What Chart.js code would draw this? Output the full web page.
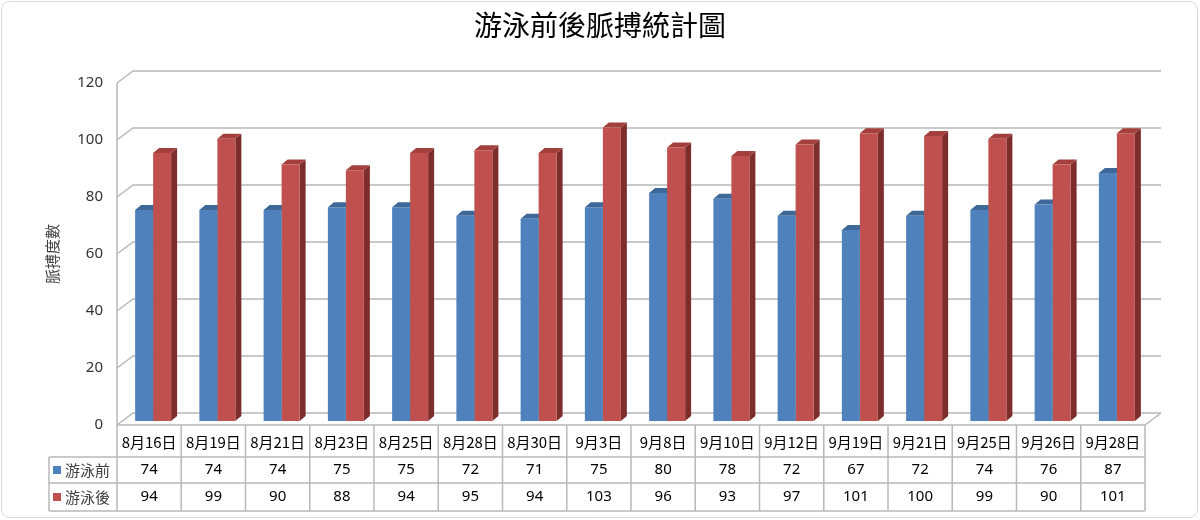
<!DOCTYPE html>
<html>
<head>
<meta charset="utf-8">
<script src="https://cdn.jsdelivr.net/npm/chart.js@4.4.1/dist/chart.umd.min.js"></script>
<style>
  body { margin: 0; background: #fff; }
</style>
</head>
<body>
<canvas id="chart" width="1200" height="520"></canvas>
<script>
const dates = ['8月16日', '8月19日', '8月21日', '8月23日', '8月25日', '8月28日', '8月30日', '9月3日',
  '9月8日', '9月10日', '9月12日', '9月19日', '9月21日', '9月25日', '9月26日', '9月28日'];
const beforeSwim = [74, 74, 74, 75, 75, 72, 71, 75, 80, 78, 72, 67, 72, 74, 76, 87];
const afterSwim = [94, 99, 90, 88, 94, 95, 94, 103, 96, 93, 97, 101, 100, 99, 90, 101];
const seriesNames = ['游泳前', '游泳後'];
const yTicks = [0, 20, 40, 60, 80, 100, 120];

const colors = [
  {front: '#4f81bd', top: '#3d6898', side: '#2f5485'},
  {front: '#c0504d', top: '#a33f3c', side: '#7d2d2b'}
];
const depth = {dx: 16, dy: -12};   // back wall offset
const barDepth = {dx: 6, dy: -5};  // bar top/side
const barShift = {dx: 4, dy: -4};
const gridColor = '#b8b8b8';
const cjk = '"Noto Sans CJK TC", "Noto Sans", sans-serif';

const scene = {
  id: 'scene',
  beforeDatasetsDraw(chart) {
    const {ctx, chartArea: a, scales: {x, y}} = chart;
    ctx.save();
    ctx.strokeStyle = gridColor;
    ctx.lineWidth = 1.5;
    // walls: side diagonal + back horizontal for each tick
    yTicks.forEach(v => {
      const py = y.getPixelForValue(v);
      ctx.beginPath();
      ctx.moveTo(a.left, py);
      ctx.lineTo(a.left + depth.dx, py + depth.dy);
      ctx.lineTo(a.right + depth.dx, py + depth.dy);
      ctx.stroke();
    });
    // floor
    const fy = y.getPixelForValue(0);
    ctx.beginPath();
    ctx.moveTo(a.left, fy);
    ctx.lineTo(a.right, fy);
    ctx.lineTo(a.right + depth.dx, fy + depth.dy);
    ctx.stroke();
    // left wall edge
    ctx.beginPath();
    ctx.moveTo(a.left, y.getPixelForValue(120));
    ctx.lineTo(a.left, 511);
    ctx.stroke();
    ctx.restore();

    // 3d faces of bars, front faces drawn by chart.js afterwards
    ctx.save();
    ctx.translate(barShift.dx, barShift.dy);
    chart.data.datasets.forEach((ds, di) => {
      chart.getDatasetMeta(di).data.forEach(bar => {
        const x0 = bar.x - bar.width / 2, x1 = bar.x + bar.width / 2;
        const top = bar.y, base = bar.base;
        ctx.fillStyle = colors[di].side;
        ctx.beginPath();
        ctx.moveTo(x1, top);
        ctx.lineTo(x1 + barDepth.dx, top + barDepth.dy);
        ctx.lineTo(x1 + barDepth.dx, base + barDepth.dy);
        ctx.lineTo(x1, base);
        ctx.fill();
        ctx.fillStyle = colors[di].top;
        ctx.beginPath();
        ctx.moveTo(x0, top);
        ctx.lineTo(x0 + barDepth.dx, top + barDepth.dy);
        ctx.lineTo(x1 + barDepth.dx, top + barDepth.dy);
        ctx.lineTo(x1, top);
        ctx.fill();
      });
    });
  },
  afterDatasetsDraw(chart) {
    chart.ctx.restore();
  },
  afterDraw(chart) {
    const {ctx, chartArea: a, scales: {x}} = chart;
    const w = (a.right - a.left) / dates.length;
    const rows = [457, 483, 511];
    ctx.save();
    ctx.strokeStyle = gridColor;
    ctx.lineWidth = 1.5;
    for (let i = 1; i <= dates.length; i++) {
      ctx.beginPath();
      ctx.moveTo(a.left + i * w, a.bottom);
      ctx.lineTo(a.left + i * w, rows[2]);
      ctx.stroke();
    }
    rows.forEach(r => {
      ctx.beginPath();
      ctx.moveTo(49, r);
      ctx.lineTo(a.right, r);
      ctx.stroke();
    });
    ctx.beginPath();
    ctx.moveTo(49, rows[0]);
    ctx.lineTo(49, rows[2]);
    ctx.stroke();

    const series = [beforeSwim, afterSwim];
    ctx.textAlign = 'center';
    ctx.textBaseline = 'middle';
    ctx.font = '15px "Noto Sans", sans-serif';
    ctx.fillStyle = '#000';
    series.forEach((vals, si) => {
      const cy = (rows[si] + rows[si + 1]) / 2;
      vals.forEach((v, i) => ctx.fillText(String(v), x.getPixelForValue(i), cy));
    });
    ctx.textAlign = 'left';
    ctx.font = '15px ' + cjk;
    seriesNames.forEach((name, si) => {
      const cy = (rows[si] + rows[si + 1]) / 2;
      ctx.fillStyle = colors[si].front;
      ctx.fillRect(53, cy - 4, 8, 8);
      ctx.fillStyle = '#404040';
      ctx.fillText(name, 65, cy);
    });

    // chart frame
    ctx.strokeStyle = '#d8d8d8';
    ctx.lineWidth = 1;
    ctx.beginPath();
    ctx.roundRect(1.5, 1.5, 1196, 516, 8);
    ctx.stroke();
    ctx.restore();
  }
};

new Chart(document.getElementById('chart'), {
  type: 'bar',
  data: {
    labels: dates,
    datasets: seriesNames.map((name, i) => ({
      label: name,
      data: i === 0 ? beforeSwim : afterSwim,
      backgroundColor: colors[i].front,
      categoryPercentage: 0.56,
      barPercentage: 1
    }))
  },
  options: {
    responsive: false,
    animation: false,
    // equal side padding keeps the title centred on the canvas
    layout: {padding: {left: 55, right: 55}},
    plugins: {
      legend: {display: false},
      tooltip: {enabled: false},
      title: {
        display: true,
        text: '游泳前後脈搏統計圖',
        color: '#000',
        font: {family: cjk, size: 28, weight: 'normal'},
        padding: {top: 9, bottom: 40.4}
      }
    },
    scales: {
      x: {
        grid: {display: false, drawTicks: false, tickLength: 0},
        border: {display: false},
        ticks: {
          color: '#000', font: {family: cjk, size: 15},
          padding: 8, maxRotation: 0, autoSkip: false
        },
        afterFit(s) { s.height = 95; }
      },
      y: {
        min: 0, max: 120,
        grid: {display: false, drawTicks: false, tickLength: 0},
        border: {display: false},
        ticks: {
          stepSize: 20, color: '#333', padding: 14,
          font: {family: '"Noto Sans", sans-serif', size: 15}
        },
        title: {
          display: true, text: '脈搏度數', color: '#404040',
          font: {family: cjk, size: 15}, padding: {top: -12, bottom: 0}
        },
        afterFit(s) { s.width = 62; }
      }
    }
  },
  plugins: [scene]
});
</script>
</body>
</html>
